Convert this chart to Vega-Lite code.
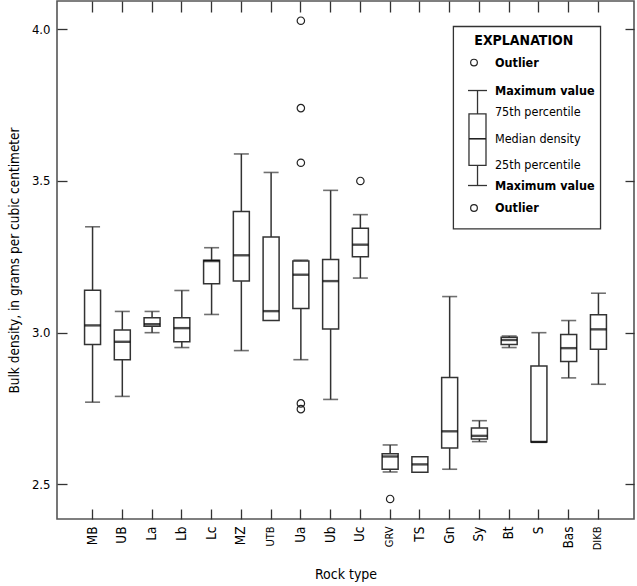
{
  "$schema": "https://vega.github.io/schema/vega-lite/v6.json",
  "width": 577,
  "height": 518,
  "autosize": {"type": "none"},
  "padding": {"left": 57, "top": 1, "right": 3, "bottom": 67},
  "background": "white",
  "config": {
    "view": {"stroke": "#555", "strokeWidth": 1.6},
    "font": "Liberation Sans Narrow, DejaVu Sans Condensed, sans-serif",
    "axis": {
      "grid": false,
      "domain": false,
      "tickColor": "#333",
      "tickWidth": 1.3,
      "labelColor": "black",
      "titleColor": "black",
      "labelFont": "Liberation Sans Narrow, DejaVu Sans Condensed, sans-serif",
      "titleFont": "Liberation Sans Narrow, DejaVu Sans Condensed, sans-serif",
      "titleFontWeight": "normal"
    }
  },
  "datasets": {
    "stats": [
      {"rock": "MB", "lower": 2.771, "q1": 2.961, "median": 3.024, "q3": 3.140, "upper": 3.349},
      {"rock": "UB", "lower": 2.790, "q1": 2.911, "median": 2.970, "q3": 3.009, "upper": 3.070},
      {"rock": "La", "lower": 3.000, "q1": 3.021, "median": 3.028, "q3": 3.049, "upper": 3.070},
      {"rock": "Lb", "lower": 2.951, "q1": 2.970, "median": 3.015, "q3": 3.049, "upper": 3.139},
      {"rock": "Lc", "lower": 3.060, "q1": 3.161, "median": 3.236, "q3": 3.239, "upper": 3.280},
      {"rock": "MZ", "lower": 2.941, "q1": 3.170, "median": 3.255, "q3": 3.399, "upper": 3.589},
      {"rock": "UTB", "lower": 3.040, "q1": 3.040, "median": 3.071, "q3": 3.315, "upper": 3.528},
      {"rock": "Ua", "lower": 2.911, "q1": 3.080, "median": 3.191, "q3": 3.236, "upper": 3.239},
      {"rock": "Ub", "lower": 2.780, "q1": 3.012, "median": 3.170, "q3": 3.241, "upper": 3.469},
      {"rock": "Uc", "lower": 3.180, "q1": 3.250, "median": 3.290, "q3": 3.344, "upper": 3.389},
      {"rock": "GRV", "lower": 2.541, "q1": 2.550, "median": 2.592, "q3": 2.601, "upper": 2.630},
      {"rock": "TS", "lower": 2.540, "q1": 2.540, "median": 2.566, "q3": 2.591, "upper": 2.591},
      {"rock": "Gn", "lower": 2.550, "q1": 2.620, "median": 2.675, "q3": 2.852, "upper": 3.119},
      {"rock": "Sy", "lower": 2.641, "q1": 2.650, "median": 2.660, "q3": 2.686, "upper": 2.710},
      {"rock": "Bt", "lower": 2.951, "q1": 2.961, "median": 2.976, "q3": 2.985, "upper": 2.989},
      {"rock": "S", "lower": 2.640, "q1": 2.640, "median": 2.640, "q3": 2.890, "upper": 3.000},
      {"rock": "Bas", "lower": 2.851, "q1": 2.905, "median": 2.949, "q3": 2.994, "upper": 3.040},
      {"rock": "DIKB", "lower": 2.830, "q1": 2.945, "median": 3.011, "q3": 3.059, "upper": 3.130}
    ],
    "outliers": [
      {"rock": "Ua", "density": 4.028},
      {"rock": "Ua", "density": 3.740},
      {"rock": "Ua", "density": 3.560},
      {"rock": "Ua", "density": 2.767},
      {"rock": "Ua", "density": 2.748},
      {"rock": "Uc", "density": 3.500},
      {"rock": "GRV", "density": 2.452}
    ]
  },
  "layer": [
    {
      "data": {"name": "stats"},
      "layer": [
        {
          "mark": {"type": "rule", "color": "#333", "strokeWidth": 1.5},
          "transform": [{"filter": "datum.lower < datum.q1"}],
          "encoding": {
            "x": {
              "field": "rock", "type": "nominal",
              "scale": {"type": "band", "domain": ["MB", "UB", "La", "Lb", "Lc", "MZ", "UTB", "Ua", "Ub", "Uc", "GRV", "TS", "Gn", "Sy", "Bt", "S", "Bas", "DIKB"], "paddingInner": 0.4624, "paddingOuter": 0.926},
              "axis": {
                "orient": "bottom", "title": "Rock type", "titleFontSize": 14, "titlePadding": 18,
                "labelAngle": -90, "tickSize": -10, "labelPadding": 17,
                "labelFontSize": {"condition": {"test": "indexof(['UTB','GRV','DIKB'], datum.value) >= 0", "value": 11}, "value": 13.5}
              }
            },
            "y": {
              "field": "lower", "type": "quantitative",
              "scale": {"domain": [2.386, 4.093], "nice": false, "zero": false},
              "axis": {
                "orient": "left", "values": [2.5, 3.0, 3.5, 4.0], "format": ".1f",
                "tickSize": -10, "labelPadding": 17, "labelFontSize": 13,
                "title": "Bulk density, in grams per cubic centimeter", "titleFontSize": 13.5, "titlePadding": 10
              }
            },
            "y2": {"field": "q1"}
          }
        },
        {
          "mark": {"type": "rule", "color": "#333", "strokeWidth": 1.5},
          "transform": [{"filter": "datum.upper > datum.q3"}],
          "encoding": {
            "x": {"field": "rock", "type": "nominal",
              "axis": {"orient": "top", "labels": false, "title": null, "tickSize": -11}},
            "y": {"field": "q3", "type": "quantitative",
              "axis": {"orient": "right", "values": [2.5, 3.0, 3.5, 4.0], "labels": false, "title": null, "tickSize": -9}},
            "y2": {"field": "upper"}
          }
        },
        {
          "mark": {"type": "tick", "color": "#333", "size": 15, "thickness": 1.6},
          "transform": [{"filter": "datum.lower < datum.q1"}],
          "encoding": {
            "x": {"field": "rock", "type": "nominal", "axis": null},
            "y": {"field": "lower", "type": "quantitative", "axis": null}
          }
        },
        {
          "mark": {"type": "tick", "color": "#333", "size": 15, "thickness": 1.6},
          "transform": [{"filter": "datum.upper > datum.q3"}],
          "encoding": {
            "x": {"field": "rock", "type": "nominal", "axis": null},
            "y": {"field": "upper", "type": "quantitative", "axis": null}
          }
        },
        {
          "mark": {"type": "bar", "fill": "white", "stroke": "#333", "strokeWidth": 1.5},
          "encoding": {
            "x": {"field": "rock", "type": "nominal", "axis": null},
            "y": {"field": "q1", "type": "quantitative", "axis": null},
            "y2": {"field": "q3"}
          }
        },
        {
          "mark": {"type": "tick", "color": "black", "size": 16, "thickness": 2.4},
          "encoding": {
            "x": {"field": "rock", "type": "nominal", "axis": null},
            "y": {"field": "median", "type": "quantitative", "axis": null}
          }
        },
        {
          "data": {"name": "outliers"},
          "mark": {"type": "point", "shape": "circle", "filled": false, "stroke": "#222", "strokeWidth": 1.2, "size": 55, "opacity": 1},
          "encoding": {
            "x": {"field": "rock", "type": "nominal", "axis": null},
            "y": {"field": "density", "type": "quantitative", "axis": null}
          }
        }
      ]
    },
    {
      "layer": [
        {
          "data": {"values": [{"left": 0.687, "right": 0.942, "top": 4.009, "bottom": 3.342}]},
          "mark": {"type": "rect", "fill": "white", "stroke": "#333", "strokeWidth": 1.3},
          "encoding": {
            "x": {"field": "left", "type": "quantitative", "scale": {"domain": [0, 1]}, "axis": null},
            "x2": {"field": "right"},
            "y": {"field": "top", "type": "quantitative", "axis": null},
            "y2": {"field": "bottom"}
          }
        },
        {
          "data": {"values": [{"cx": 0.7288, "top": 3.798, "bottom": 3.485}]},
          "mark": {"type": "rule", "color": "#333", "strokeWidth": 1.3},
          "encoding": {
            "x": {"field": "cx", "type": "quantitative", "axis": null},
            "y": {"field": "top", "type": "quantitative", "axis": null},
            "y2": {"field": "bottom"}
          }
        },
        {
          "data": {"values": [{"a": 0.7123, "b": 0.7452, "level": 3.798}, {"a": 0.7123, "b": 0.7452, "level": 3.485}]},
          "mark": {"type": "rule", "color": "#333", "strokeWidth": 1.3},
          "encoding": {
            "x": {"field": "a", "type": "quantitative", "axis": null},
            "x2": {"field": "b"},
            "y": {"field": "level", "type": "quantitative", "axis": null}
          }
        },
        {
          "data": {"values": [{"a": 0.714, "b": 0.7435, "top": 3.721, "bottom": 3.551}]},
          "mark": {"type": "rect", "fill": "white", "stroke": "#333", "strokeWidth": 1.3},
          "encoding": {
            "x": {"field": "a", "type": "quantitative", "axis": null},
            "x2": {"field": "b"},
            "y": {"field": "top", "type": "quantitative", "axis": null},
            "y2": {"field": "bottom"}
          }
        },
        {
          "data": {"values": [{"a": 0.714, "b": 0.7435, "level": 3.639}]},
          "mark": {"type": "rule", "color": "#222", "strokeWidth": 1.6},
          "encoding": {
            "x": {"field": "a", "type": "quantitative", "axis": null},
            "x2": {"field": "b"},
            "y": {"field": "level", "type": "quantitative", "axis": null}
          }
        },
        {
          "data": {"values": [{"cx": 0.7227, "level": 3.890}, {"cx": 0.7227, "level": 3.411}]},
          "mark": {"type": "point", "shape": "circle", "filled": false, "stroke": "#222", "strokeWidth": 1.2, "size": 45, "opacity": 1},
          "encoding": {
            "x": {"field": "cx", "type": "quantitative", "axis": null},
            "y": {"field": "level", "type": "quantitative", "axis": null}
          }
        },
        {
          "data": {"values": [{"cx": 0.809, "level": 3.961, "label": "EXPLANATION"}]},
          "mark": {"type": "text", "align": "center", "baseline": "middle", "fontWeight": "bold", "fontSize": 14, "color": "black"},
          "encoding": {
            "x": {"field": "cx", "type": "quantitative", "axis": null},
            "y": {"field": "level", "type": "quantitative", "axis": null},
            "text": {"field": "label"}
          }
        },
        {
          "data": {"values": [
            {"cx": 0.759, "level": 3.890, "label": "Outlier"},
            {"cx": 0.759, "level": 3.796, "label": "Maximum value"},
            {"cx": 0.759, "level": 3.482, "label": "Maximum value"},
            {"cx": 0.759, "level": 3.411, "label": "Outlier"}
          ]},
          "mark": {"type": "text", "align": "left", "baseline": "middle", "fontWeight": "bold", "fontSize": 12.5, "color": "black"},
          "encoding": {
            "x": {"field": "cx", "type": "quantitative", "axis": null},
            "y": {"field": "level", "type": "quantitative", "axis": null},
            "text": {"field": "label"}
          }
        },
        {
          "data": {"values": [
            {"cx": 0.759, "level": 3.727, "label": "75th percentile"},
            {"cx": 0.759, "level": 3.639, "label": "Median density"},
            {"cx": 0.759, "level": 3.551, "label": "25th percentile"}
          ]},
          "mark": {"type": "text", "align": "left", "baseline": "middle", "fontSize": 12.5, "color": "black"},
          "encoding": {
            "x": {"field": "cx", "type": "quantitative", "axis": null},
            "y": {"field": "level", "type": "quantitative", "axis": null},
            "text": {"field": "label"}
          }
        }
      ]
    }
  ],
  "resolve": {"scale": {"x": "independent"}}
}
